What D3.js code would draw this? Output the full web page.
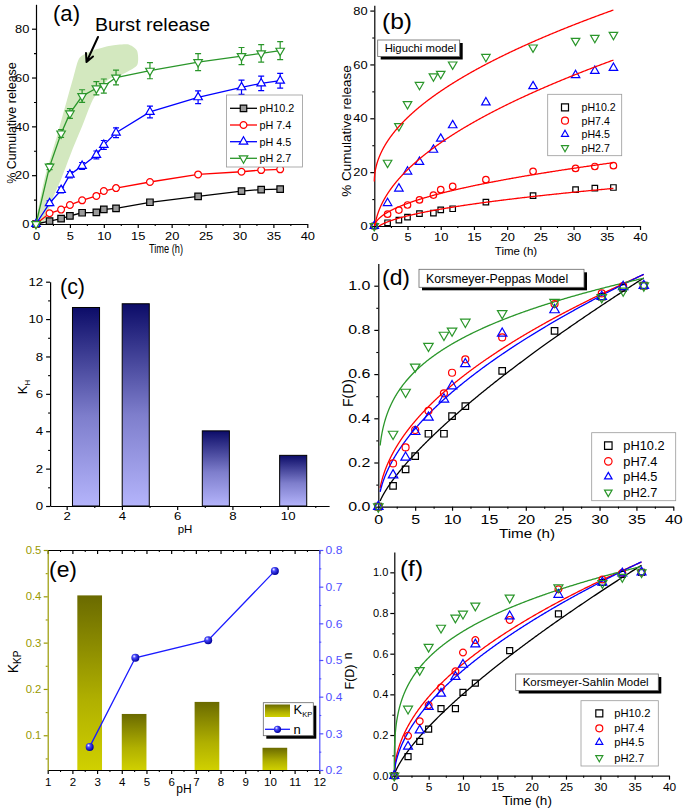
<!DOCTYPE html>
<html>
<head>
<meta charset="utf-8">
<script src="https://cdn.jsdelivr.net/npm/d3@7"></script>
<style>
  body { margin: 0; background: #fff; }
  svg { display: block; }
</style>
</head>
<body>
<svg id="fig" width="689" height="811"></svg>
<script>
var FONT = "'Liberation Sans', Arial, sans-serif";

// ---------- data ----------
var times = [0, 2, 3.7, 5, 6.8, 8.9, 10, 11.8, 16.8, 23.9, 30.3, 33.2, 36];

// % cumulative release (panels a, b)
var relPH102 = [0, 1.2, 2.2, 3.3, 4.6, 4.8, 6.0, 6.4, 8.9, 11.3, 13.5, 14.1, 14.3];
var relPH74  = [0, 4.4, 5.9, 7.8, 9.7, 11.5, 13.5, 14.7, 17.2, 20.3, 21.4, 22.1, 22.4];
var relPH45  = [0, 8.5, 13.9, 20.2, 23.8, 28.3, 32.4, 37.4, 45.9, 51.9, 56.0, 57.6, 58.7];
var relPH27  = [0, 23.5, 37.1, 45.3, 52.4, 55.6, 56.5, 60.0, 62.8, 66.3, 68.8, 69.9, 71.0];
var errPH102 = [0, 0.3, 0.3, 0.3, 0.3, 0.3, 0.3, 0.3, 0.3, 0.3, 0.3, 0.3, 0.3];
var errPH74  = [0, 0.4, 0.4, 0.4, 0.4, 0.4, 0.4, 0.4, 0.4, 0.4, 0.4, 0.4, 0.4];
var errPH45  = [0, 1.0, 1.2, 1.3, 1.4, 1.6, 1.8, 2.0, 2.4, 2.6, 2.9, 3.0, 3.0];
var errPH27  = [0, 1.2, 1.6, 2.0, 2.6, 2.7, 2.9, 3.0, 3.3, 3.5, 3.5, 3.6, 3.7];

// F(D) (panels d, f)
var fdPH102 = [0, 0.094, 0.169, 0.229, 0.330, 0.330, 0.410, 0.455, 0.615, 0.796, 0.950, 0.990, 1.0];
var fdPH74  = [0, 0.196, 0.268, 0.347, 0.434, 0.513, 0.606, 0.667, 0.766, 0.917, 0.965, 0.998, 1.0];
var fdPH45  = [0, 0.143, 0.223, 0.339, 0.404, 0.486, 0.546, 0.646, 0.784, 0.890, 0.950, 0.995, 1.0];
var fdPH27  = [0, 0.329, 0.519, 0.633, 0.727, 0.777, 0.796, 0.836, 0.875, 0.926, 0.947, 0.977, 1.0];

var legendA = ["pH10.2", "pH 7.4", "pH 4.5", "pH 2.7"];
var legendB = ["pH10.2", "pH7.4", "pH4.5", "pH2.7"];

// Higuchi fits  Q = K*sqrt(t) + b  (order pH10.2, 7.4, 4.5, 2.7)
var higuchiK = [2.71, 4.02, 10.82, 10.62];
var higuchiB = [-2.3, -0.6, -3.3, 16.5];

// Korsmeyer-Peppas / Sahlin fit curves  F = K*t^n
var kpK = [0.073, 0.172, 0.145, 0.40];
var kpN = [0.74, 0.505, 0.553, 0.265];
var ksK = [0.073, 0.172, 0.145, 0.364];
var ksN = [0.74, 0.505, 0.553, 0.29];

// panel c
var khPH = [2.7, 4.5, 7.4, 10.2];
var khValues = [10.62, 10.82, 4.02, 2.71];

// panel e
var kkpPH = [2.7, 4.5, 7.45, 10.2];
var kkpValues = [0.402, 0.146, 0.172, 0.073];
var nPH = [2.7, 4.55, 7.5, 10.2];
var nValues = [0.263, 0.506, 0.554, 0.743];

// burst release band (time, %)
var burstBand = [[0, 0], [1.3, 19], [3.2, 37], [5.5, 60], [6.4, 68], [8.3, 71], [11, 73], [13.5, 73.6],
                 [14.9, 71], [14.9, 65], [12.5, 61], [10.6, 59], [8.4, 51], [6.8, 40], [5.3, 30],
                 [3.8, 19], [2.4, 10], [1.3, 1.6]];

// ---------- styles ----------
var colors = ["#000000", "#ff0000", "#0000ff", "#2a962a"];
var shapes = ["square", "circle", "up", "down"];

var svg = d3.select("#fig");
var defs = svg.append("defs");

function vGrad(id, stops) {
    var g = defs.append("linearGradient").attr("id", id)
        .attr("x1", 0).attr("y1", 0).attr("x2", 0).attr("y2", 1);
    stops.forEach(function(s) {
        g.append("stop").attr("offset", s[0]).attr("stop-color", s[1]);
    });
}
vGrad("navyGrad", [["0%", "#0c0c68"], ["55%", "#7e7ecc"], ["100%", "#b4b4fb"]]);
vGrad("oliveGrad", [["0%", "#6a6a00"], ["60%", "#b0b000"], ["100%", "#d0d000"]]);
var sph = defs.append("radialGradient").attr("id", "sphere")
    .attr("cx", "40%").attr("cy", "40%").attr("r", "60%").attr("fx", "35%").attr("fy", "30%");
sph.append("stop").attr("offset", "0%").attr("stop-color", "#ffffff");
sph.append("stop").attr("offset", "35%").attr("stop-color", "#4a4aff");
sph.append("stop").attr("offset", "100%").attr("stop-color", "#00009a");

function symPath(shape, s) {
    if (shape == "square") return d3.symbol(d3.symbolSquare, s * s)();
    if (shape == "circle") return d3.symbol(d3.symbolCircle, Math.PI * s * s / 4)();
    return d3.symbol(d3.symbolTriangle, s * s * 0.433)();
}

function drawMarker(g, shape, cx, cy, s, color, fill) {
    g.append("path")
        .attr("d", symPath(shape, s))
        .attr("transform", "translate(" + cx + "," + cy + ")" + (shape == "down" ? " rotate(180)" : ""))
        .attr("fill", fill)
        .attr("stroke", color)
        .attr("stroke-width", 1.2);
}

// o: fs (font size), color, size (tick length), sx (horizontal text stretch), pad
function axis(gen, scale, tx, ty, major, minor, fmt, o) {
    var size = o.size === undefined ? 4 : o.size;
    var color = o.color || "#000";
    var g = svg.append("g").attr("transform", "translate(" + tx + "," + ty + ")");
    g.call(gen(scale).tickValues(major).tickFormat(fmt).tickSize(size).tickSizeOuter(0)
        .tickPadding(o.pad === undefined ? 2 : o.pad));
    g.attr("font-family", FONT).attr("font-size", o.fs).style("color", color);
    g.selectAll("path,line").attr("stroke-width", 1.2);
    if (o.sx) g.selectAll("text").attr("transform", "scale(" + o.sx + ",1)");
    if (minor) {
        var m = svg.append("g").attr("transform", "translate(" + tx + "," + ty + ")");
        m.call(gen(scale).tickValues(minor).tickFormat("").tickSize(size / 2).tickSizeOuter(0));
        m.select(".domain").remove();
        m.style("color", color).selectAll("line").attr("stroke-width", 1.1);
    }
    return g;
}

function text(x, y, str, fs, opts) {
    opts = opts || {};
    var t = svg.append("text")
        .attr("x", x).attr("y", y)
        .attr("font-family", opts.family || FONT)
        .attr("font-size", fs)
        .attr("fill", opts.fill || "#000")
        .attr("text-anchor", opts.anchor || "start")
        .text(str);
    if (opts.rotate) t.attr("transform", "rotate(-90," + x + "," + y + ")");
    if (opts.len) t.attr("textLength", opts.len).attr("lengthAdjust", "spacingAndGlyphs");
    return t;
}

function labelBox(x, y, w, h, str, fs) {
    svg.append("rect").attr("x", x + 3).attr("y", y + 3).attr("width", w).attr("height", h).attr("fill", "#000");
    svg.append("rect").attr("x", x).attr("y", y).attr("width", w).attr("height", h)
        .attr("fill", "#fff").attr("stroke", "#666").attr("stroke-width", 0.8);
    text(x + 7, y + h / 2 + fs * 0.36, str, fs);
}

function scatterLegend(x0, y0, w, h, mx, tx, rows, fs, ms, labels) {
    svg.append("rect").attr("x", x0).attr("y", y0).attr("width", w).attr("height", h)
        .attr("fill", "#fff").attr("stroke", "#999").attr("stroke-width", 0.8);
    labels.forEach(function(l, i) {
        drawMarker(svg, shapes[i], mx, rows[i], ms, colors[i], "none");
        text(tx, rows[i] + fs * 0.36, l, fs);
    });
}

var timeTicks = d3.range(0, 41, 5);
var timeMinor = d3.range(2.5, 40, 5);
var tCurve = d3.range(0, 401).map(function(i) { return 36 * Math.pow(i / 400, 2); });

// ================= (a) =================
var xa = d3.scaleLinear().domain([0, 40]).range([36, 307.3]);
var ya = d3.scaleLinear().domain([0, 90]).range([224, 4.3]);

svg.append("path")
    .datum(burstBand)
    .attr("d", d3.line().x(function(d) { return xa(d[0]); }).y(function(d) { return ya(d[1]); })
        .curve(d3.curveCardinalClosed.tension(0.3)))
    .attr("fill", "#d3e8bf");

axis(d3.axisLeft, ya, 36, 0, [0, 20, 40, 60, 80], [10, 30, 50, 70], d3.format("d"), { fs: 11.5, sx: 1.12 });
axis(d3.axisBottom, xa, 0, 224, timeTicks, timeMinor, d3.format("d"), { fs: 11.5, sx: 1.12, pad: 4 });

var release = [relPH102, relPH74, relPH45, relPH27];
var releaseErr = [errPH102, errPH74, errPH45, errPH27];
var fillsA = ["#9a9a9a", "#fff", "#fff", "#fff"];
var sizeA = [6.5, 6.8, 8.5, 8.5];
var ga = svg.append("g");
release.forEach(function(vals, k) {
    ga.append("path")
        .datum(vals)
        .attr("d", d3.line().x(function(d, i) { return xa(times[i]); }).y(function(d) { return ya(d); }))
        .attr("fill", "none").attr("stroke", colors[k]).attr("stroke-width", 1.3);
    vals.forEach(function(v, i) {
        var e = releaseErr[k][i];
        if (e > 0) {
            var cx = xa(times[i]);
            ga.append("path")
                .attr("d", "M" + cx + "," + ya(v - e) + "V" + ya(v + e) +
                    "M" + (cx - 3) + "," + ya(v + e) + "H" + (cx + 3) +
                    "M" + (cx - 3) + "," + ya(v - e) + "H" + (cx + 3))
                .attr("stroke", colors[k]).attr("stroke-width", 1.2).attr("fill", "none");
        }
        drawMarker(ga, shapes[k], xa(times[i]), ya(v), sizeA[k], colors[k], fillsA[k]);
    });
});

// legend (a)
svg.append("rect").attr("x", 226.5).attr("y", 95).attr("width", 76).attr("height", 72)
    .attr("fill", "#fff").attr("stroke", "#999").attr("stroke-width", 0.8);
[108.3, 125, 141.7, 158.3].forEach(function(yy, i) {
    svg.append("line").attr("x1", 230).attr("x2", 257).attr("y1", yy).attr("y2", yy)
        .attr("stroke", colors[i]).attr("stroke-width", 1.3);
    drawMarker(svg, shapes[i], 243.5, yy, sizeA[i], colors[i], fillsA[i]);
    text(259.5, yy + 4, legendA[i], 10.8);
});

text(53, 21, "(a)", 22, { len: 27 });
text(95, 31, "Burst release", 18, { len: 115 });
svg.append("path")
    .attr("d", "M98,37 L86.5,62 M86.5,62 L86,53 M86.5,62 L93,56.5")
    .attr("stroke", "#000").attr("stroke-width", 2).attr("fill", "none").attr("stroke-linecap", "round");
text(16, 123, "% Cumulative release", 12.5, { rotate: true, anchor: "middle" });
text(166, 253, "Time (h)", 12, { anchor: "middle", len: 34 });

// ================= (b) =================
var xb = d3.scaleLinear().domain([0, 40]).range([374.3, 640]);
var yb = d3.scaleLinear().domain([0, 82]).range([226, 5.2]);
axis(d3.axisLeft, yb, 374.3, 0, [0, 20, 40, 60, 80], [10, 30, 50, 70], d3.format("d"), { fs: 11.5, sx: 1.12 });
axis(d3.axisBottom, xb, 0, 226, timeTicks, timeMinor, d3.format("d"), { fs: 11.5, sx: 1.12, pad: 3 });

var gb = svg.append("g");
release.forEach(function(vals, k) {
    vals.forEach(function(v, i) {
        drawMarker(gb, shapes[k], xb(times[i]), yb(v), shapes[k] == "square" ? 5.5 : (shapes[k] == "circle" ? 6.5 : 8.5), colors[k], "none");
    });
});
higuchiK.forEach(function(k, j) {
    var b = higuchiB[j];
    var t0 = b < 0 ? Math.pow(-b / k, 2) : 0;
    var pts = [t0].concat(tCurve.filter(function(t) { return t > t0; }));
    gb.append("path")
        .datum(pts)
        .attr("d", d3.line().x(function(t) { return xb(t); }).y(function(t) { return yb(k * Math.sqrt(t) + b); }))
        .attr("fill", "none").attr("stroke", "#ff0000").attr("stroke-width", 1.3);
});
scatterLegend(547.7, 94.3, 74, 61.4, 565, 581.5, [107.3, 120.7, 134.3, 147.7], 10.6, 7, legendB);
labelBox(377.7, 40, 82, 16.5, "Higuchi model", 11.3);
text(382, 29, "(b)", 22, { len: 30 });
text(351, 131, "% Cumulative release", 13.5, { rotate: true, anchor: "middle" });
text(516, 254.5, "Time (h)", 11.5, { anchor: "middle" });

// ================= (c) =================
var xc = d3.scaleLinear().domain([1.4, 11.5]).range([50.1, 329.1]);
var yc = d3.scaleLinear().domain([0, 12]).range([506, 281.7]);
svg.append("g").selectAll("rect")
    .data(khValues)
    .join("rect")
    .attr("x", function(d, i) { return xc(khPH[i] - 0.49); })
    .attr("width", xc(1.4 + 0.98) - xc(1.4))
    .attr("y", function(d) { return yc(d); })
    .attr("height", function(d) { return yc(0) - yc(d); })
    .attr("fill", "url(#navyGrad)")
    .attr("stroke", "#000").attr("stroke-width", 1);
axis(d3.axisLeft, yc, 50.1, 0, d3.range(0, 13, 2), d3.range(1, 12, 2), d3.format("d"), { fs: 11.5, sx: 1.15 });
axis(d3.axisBottom, xc, 0, 506, [2, 4, 6, 8, 10], [3, 5, 7, 9, 11], d3.format("d"), { fs: 11.5, sx: 1.15, pad: 1.5 });
text(60, 294, "(c)", 22, { len: 25 });
var kh = text(27, 387, "K", 13, { rotate: true, anchor: "middle" });
kh.append("tspan").attr("font-size", 8).attr("dy", 3).text("H");
text(185, 532.5, "pH", 11.5, { anchor: "middle" });

// ================= (d) =================
var xd = d3.scaleLinear().domain([0, 40]).range([378.3, 673.3]);
var yd = d3.scaleLinear().domain([0, 1.1]).range([506.7, 263.6]);
var fdSeries = [fdPH102, fdPH74, fdPH45, fdPH27];

function fitPanel(x, y, K, N, tStart, ms) {
    var g = svg.append("g");
    K.forEach(function(k, j) {
        var pts = [tStart].concat(tCurve.filter(function(t) { return t > tStart; }));
        g.append("path")
            .datum(pts)
            .attr("d", d3.line().x(function(t) { return x(t); }).y(function(t) { return y(k * Math.pow(t, N[j])); }))
            .attr("fill", "none").attr("stroke", colors[j]).attr("stroke-width", 1.3);
    });
    fdSeries.forEach(function(vals, k) {
        vals.forEach(function(v, i) {
            drawMarker(g, shapes[k], x(times[i]), y(v), shapes[k] == "square" ? ms[0] : (shapes[k] == "circle" ? ms[1] : ms[2]), colors[k], "none");
        });
    });
}

axis(d3.axisLeft, yd, 378.3, 0, [0, 0.2, 0.4, 0.6, 0.8, 1.0], [0.1, 0.3, 0.5, 0.7, 0.9], d3.format(".1f"), { fs: 12, sx: 1.33 });
axis(d3.axisBottom, xd, 0, 506.7, timeTicks, timeMinor, d3.format("d"), { fs: 12, sx: 1.33, pad: 5 });
fitPanel(xd, yd, kpK, kpN, 0.25, [6.5, 7, 9.5]);
labelBox(419, 269.3, 165, 18, "Korsmeyer-Peppas Model", 12.3);
scatterLegend(591.7, 432.7, 84, 68, 608.3, 623.3, [445.7, 461.3, 476.7, 492.3], 12.8, 7.5, legendB);
text(382, 285, "(d)", 22, { len: 28 });
text(353, 393, "F(D)", 14, { rotate: true, anchor: "middle" });
text(527, 537.5, "Time (h)", 13, { anchor: "middle", len: 56 });

// ================= (e) =================
var xe = d3.scaleLinear().domain([1, 12]).range([47.7, 319.3]);
var yeL = d3.scaleLinear().domain([0.025, 0.5]).range([770, 550]);
var yeR = d3.scaleLinear().domain([0.2, 0.8]).range([770, 550]);
svg.append("g").selectAll("rect")
    .data(kkpValues)
    .join("rect")
    .attr("x", function(d, i) { return xe(kkpPH[i] - 0.5); })
    .attr("width", xe(2) - xe(1))
    .attr("y", function(d) { return yeL(d); })
    .attr("height", function(d) { return yeL(0.025) - yeL(d); })
    .attr("fill", "url(#oliveGrad)");
var ge = svg.append("g");
ge.append("path")
    .datum(nValues)
    .attr("d", d3.line().x(function(d, i) { return xe(nPH[i]); }).y(function(d) { return yeR(d); }))
    .attr("fill", "none").attr("stroke", "#1a1aff").attr("stroke-width", 1.3);
ge.selectAll("circle")
    .data(nValues)
    .join("circle")
    .attr("cx", function(d, i) { return xe(nPH[i]); })
    .attr("cy", function(d) { return yeR(d); })
    .attr("r", 4)
    .attr("fill", "url(#sphere)");

var xeTicks = d3.range(1, 13);
var xeMinor = d3.range(1.5, 12, 1);
axis(d3.axisBottom, xe, 0, 770, xeTicks, xeMinor, d3.format("d"), { fs: 11.5, pad: 4 });
axis(d3.axisTop, xe, 0, 550, xeTicks, xeMinor, "", { fs: 11.5, size: -4 });
axis(d3.axisLeft, yeL, 47.7, 0, [0.1, 0.2, 0.3, 0.4, 0.5], [0.05, 0.15, 0.25, 0.35, 0.45], d3.format(".1f"), { fs: 10.8, sx: 1.05, color: "#999900" });
axis(d3.axisRight, yeR, 319.3, 0, d3.range(0.2, 0.81, 0.1), d3.range(0.25, 0.8, 0.1), d3.format(".1f"), { fs: 11.5, sx: 1.05, color: "#5050ff" });

// legend (e)
svg.append("rect").attr("x", 266.3).attr("y", 705.7).attr("width", 50).attr("height", 33).attr("fill", "#000");
svg.append("rect").attr("x", 263.3).attr("y", 702.7).attr("width", 50).attr("height", 33)
    .attr("fill", "#fff").attr("stroke", "#666").attr("stroke-width", 0.8);
svg.append("rect").attr("x", 265).attr("y", 704.5).attr("width", 25).attr("height", 12.5).attr("fill", "url(#oliveGrad)");
var kl = text(293.5, 714, "K", 13);
kl.append("tspan").attr("font-size", 7.5).attr("dy", 2.5).text("KP");
svg.append("line").attr("x1", 265).attr("x2", 290).attr("y1", 729.3).attr("y2", 729.3)
    .attr("stroke", "#1a1aff").attr("stroke-width", 1.3);
svg.append("circle").attr("cx", 277.5).attr("cy", 729.3).attr("r", 3.6).attr("fill", "url(#sphere)");
text(293.5, 733.5, "n", 13);

text(49, 577, "(e)", 22, { len: 28 });
var kkp = text(18, 662, "K", 14, { rotate: true, anchor: "middle" });
kkp.append("tspan").attr("font-size", 10).attr("dy", 3).text("KP");
text(352, 656, "n", 12, { rotate: true, anchor: "middle" });
text(184, 793, "pH", 12, { anchor: "middle" });

// ================= (f) =================
var xf = d3.scaleLinear().domain([0, 40]).range([394.3, 669]);
var yf = d3.scaleLinear().domain([0, 1.1]).range([775.7, 552]);
axis(d3.axisLeft, yf, 394.3, 0, [0, 0.2, 0.4, 0.6, 0.8, 1.0], [0.1, 0.3, 0.5, 0.7, 0.9], d3.format(".1f"), { fs: 11 });
axis(d3.axisBottom, xf, 0, 775.7, timeTicks, timeMinor, d3.format("d"), { fs: 11, sx: 1.08, pad: 3 });
fitPanel(xf, yf, ksK, ksN, 0, [6, 6.8, 9]);
labelBox(515.7, 674, 142.6, 16.5, "Korsmeyer-Sahlin Model", 11.5);
scatterLegend(581, 700.7, 77.3, 65.3, 599.3, 614.3, [713.3, 728.3, 742.3, 757.7], 11.2, 7, legendB);
text(400, 576, "(f)", 22, { len: 23 });
text(354, 677, "F(D)", 12.5, { rotate: true, anchor: "middle" });
text(527, 805, "Time (h)", 13.5, { anchor: "middle" });
</script>
</body>
</html>
